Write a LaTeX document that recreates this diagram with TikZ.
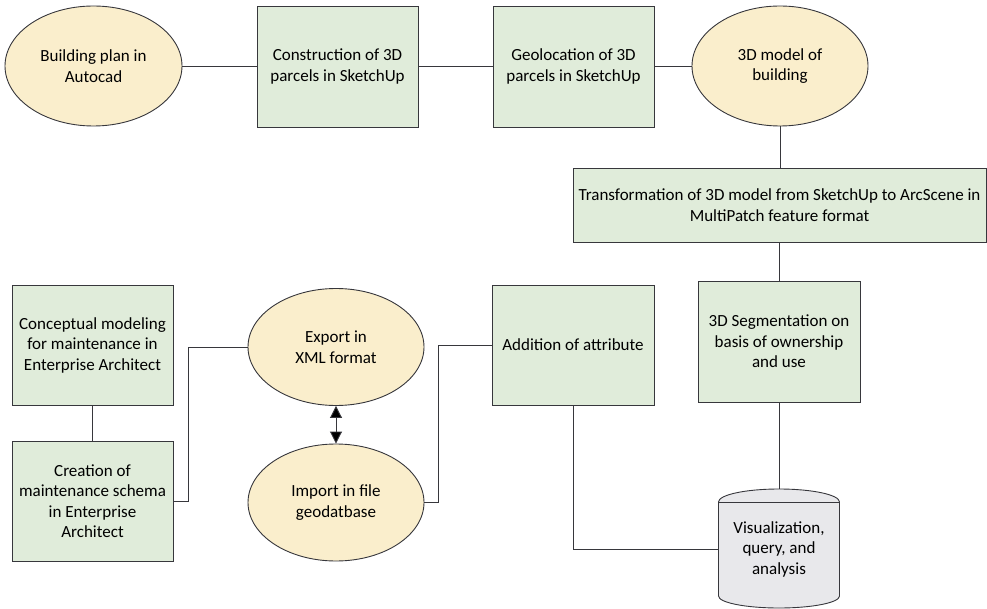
\documentclass[tikz,border=0pt]{standalone}
\usepackage{fontspec}
\setmainfont{Carlito}
\usetikzlibrary{shapes.geometric,arrows.meta}
\definecolor{procfill}{RGB}{224,236,218}
\definecolor{termfill}{RGB}{250,238,204}
\definecolor{dbfill}{RGB}{232,232,235}
\definecolor{edge}{RGB}{55,55,60}
\tikzset{
  every node/.style={font=\fontsize{17}{20.5}\selectfont, align=center, inner sep=0pt},
  proc/.style={draw=edge, line width=0.9pt, fill=procfill, rectangle},
  term/.style={draw=edge, line width=0.9pt, fill=termfill, ellipse},
  link/.style={draw=edge, line width=0.9pt},
}
\begin{document}
\begin{tikzpicture}[x=1pt, y=-1pt]
  \useasboundingbox (0,0) rectangle (987,609);
  % top row
  \node[term, minimum width=177pt, minimum height=120pt] (BPA) at (93.5,66) {Building plan in\\Autocad};
  \node[proc, minimum width=161pt, minimum height=121pt] (C3D) at (337.5,66.5) {Construction of 3D\\parcels in SketchUp};
  \node[proc, minimum width=161pt, minimum height=121pt] (G3D) at (573.5,66.5) {Geolocation of 3D\\parcels in SketchUp};
  \node[term, minimum width=176pt, minimum height=120pt] (M3D) at (780,66) {3D model of\\building};
  \node[proc, minimum width=413pt, minimum height=74pt] (TRF) at (779.5,205) {Transformation of 3D model from SketchUp to ArcScene in\\MultiPatch feature format};
  % lower part
  \node[proc, minimum width=162pt, minimum height=121pt] (SEG) at (779,341.5) {3D Segmentation on\\basis of ownership\\and use};
  \node[proc, minimum width=162pt, minimum height=120pt] (ADD) at (573,345) {Addition of attribute};
  \node[proc, minimum width=161pt, minimum height=120pt] (CM) at (92.5,345) {Conceptual modeling\\for maintenance in\\Enterprise Architect};
  \node[proc, minimum width=161pt, minimum height=120pt] (CS) at (92.5,501) {Creation of\\maintenance schema\\in Enterprise\\Architect};
  \node[term, minimum width=176pt, minimum height=117pt] (EXP) at (336,347) {Export in\\XML format};
  \node[term, minimum width=176pt, minimum height=117pt] (IMP) at (336,502.5) {Import in file\\geodatbase};
  % database
  \path[link, fill=dbfill] (718.5,502) arc[start angle=180, end angle=0, x radius=60.5pt, y radius=13pt]
    -- (839.5,596) arc[start angle=0, end angle=-180, x radius=60.5pt, y radius=12pt] -- cycle;
  \draw[link] (718.5,502) -- (839.5,502);
  \node[minimum width=121pt, minimum height=120pt] (VIS) at (779,549) {Visualization,\\query, and\\analysis};
  % connectors
  \draw[link] (BPA.east) -- (BPA.east-|C3D.west);
  \draw[link] (C3D) -- (G3D);
  \draw[link] (G3D.east) -- (G3D.east-|M3D.west);
  \draw[link] (M3D.south) -- (M3D.south|-TRF.north);
  \draw[link] (TRF.south) -- (TRF.south|-SEG.north);
  \draw[link] (SEG) -- (VIS.north);
  \draw[link] (CM) -- (CS);
  \draw[link] (CS.east) -- ++(15,0) |- (EXP.west);
  \draw[link] (IMP.east) -- ++(14,0) |- (ADD.west);
  \draw[link] (ADD.south) |- (VIS.west);
  \draw[link, {Triangle[length=12pt,width=12pt,fill=black]}-{Triangle[length=12pt,width=12pt,fill=black]}] (EXP.south) -- (IMP.north);
\end{tikzpicture}
\end{document}
